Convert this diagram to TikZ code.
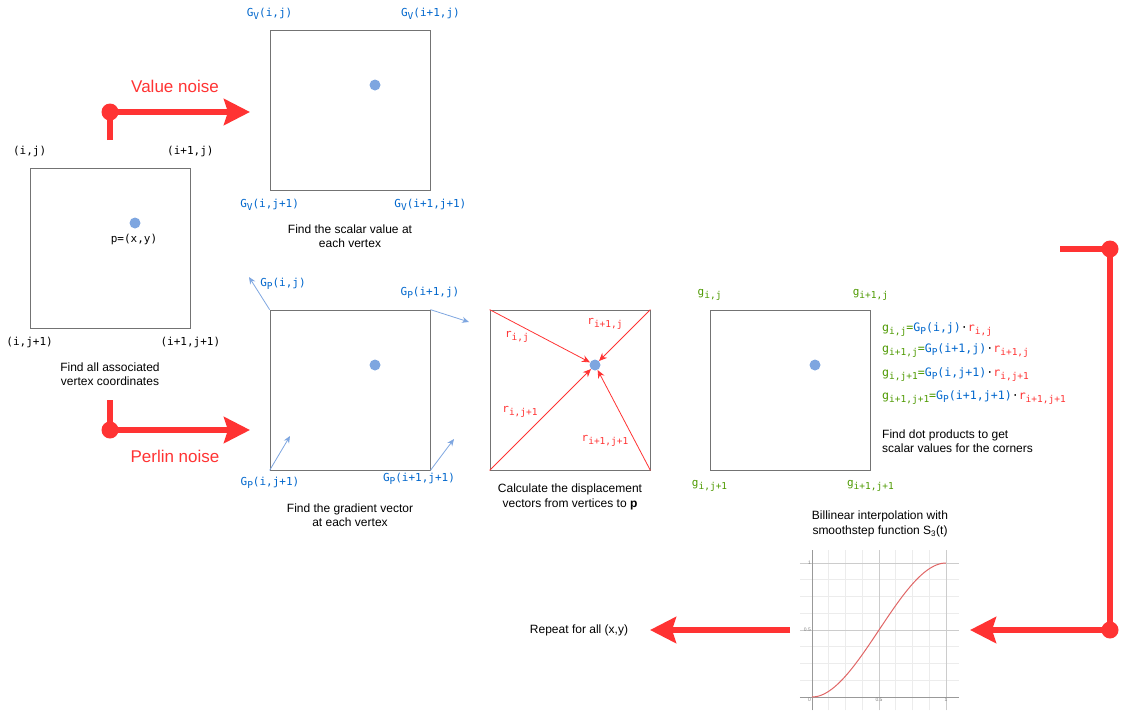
\documentclass[tikz,border=0pt]{standalone}
\usepackage{fontspec}
\setmainfont{Liberation Sans}
\setmonofont{DejaVu Sans Mono}
\usetikzlibrary{arrows.meta,positioning}
\definecolor{arrowred}{HTML}{FF3333}
\definecolor{curvered}{HTML}{E06666}
\definecolor{dotblue}{HTML}{7EA6E0}
\definecolor{labblue}{HTML}{0066CC}
\definecolor{labgreen}{HTML}{4D9900}
\definecolor{boxgray}{HTML}{737373}
\newcommand\sbs[1]{\raisebox{-3pt}{\fontsize{9.5}{10}\selectfont #1}}
\begin{document}
\begin{tikzpicture}[x=1pt,y=-1pt,
  cell/.style={draw=boxgray,line width=0.8pt,minimum size=160pt,inner sep=0pt},
  spot/.style={circle,fill=dotblue,minimum size=11pt,inner sep=0pt},
  corner/.style={font=\fontsize{11}{13}\selectfont\ttfamily,inner sep=1pt},
  formula/.style={font=\fontsize{11.6}{13}\selectfont\ttfamily,inner sep=1pt,anchor=west},
  caption/.style={font=\fontsize{12}{14.5}\selectfont,align=center,inner sep=0pt},
  bigarrow/.style={arrowred,line width=6pt,-{Stealth[length=26pt,width=26pt,inset=4pt]}},
  knot/.style={circle,fill=arrowred,minimum size=17pt,inner sep=0pt},
  grad/.style={dotblue,line width=0.8pt,-{Stealth[length=7pt,width=6pt]}},
  disp/.style={arrowred,line width=0.8pt,-{Stealth[length=8pt,width=7pt]}},
  tick/.style={font=\fontsize{5}{6}\selectfont,text=gray,inner sep=1pt}]
  \useasboundingbox (0,0) rectangle (1125,710);

  % vertex coordinates
  \node[cell] (coord) at (110,248) {};
  \node[spot] (pdot) at (135,223) {};
  \node[corner] (plab) at (134,239) {p=(x,y)};
  \node[corner] (c11) at ([yshift=16pt]coord.north west) {(i,j)};
  \node[corner] (c21) at ([yshift=16pt]coord.north east) {(i+1,j)};
  \node[corner] (c12) at ([yshift=-14pt]coord.south west) {(i,j+1)};
  \node[corner] (c22) at ([yshift=-14pt]coord.south east) {(i+1,j+1)};
  \node[caption] (ccap) at (110,374) {Find all associated\\vertex coordinates};

  % value noise
  \coordinate (vstub) at (110,140);
  \coordinate (vtip) at (250,112);
  \draw[bigarrow] (vstub) |- (vtip);
  \node[knot] (vknot) at (110,112) {};
  \node[font=\fontsize{17}{20}\selectfont,text=arrowred] (vname) at (175,86) {Value noise};

  \node[cell] (vbox) at (350,110) {};
  \node[spot] (vdot) at (375,85) {};
  \node[corner,text=labblue] (v11) at ([yshift=16pt]vbox.north west) {G\sbs{V}(i,j)};
  \node[corner,text=labblue] (v21) at ([yshift=16pt]vbox.north east) {G\sbs{V}(i+1,j)};
  \node[corner,text=labblue] (v12) at ([yshift=-14pt]vbox.south west) {G\sbs{V}(i,j+1)};
  \node[corner,text=labblue] (v22) at ([yshift=-14pt]vbox.south east) {G\sbs{V}(i+1,j+1)};
  \node[caption] (vcap) at (350,236) {Find the scalar value at\\each vertex};

  % perlin noise
  \coordinate (pstub) at (110,400);
  \coordinate (ptip) at (250,430);
  \draw[bigarrow] (pstub) |- (ptip);
  \node[knot] (pknot) at (110,430) {};
  \node[font=\fontsize{17}{20}\selectfont,text=arrowred] (pname) at (175,456) {Perlin noise};

  % gradient vectors
  \node[cell] (gbox) at (350,390) {};
  \node[spot] (gdot) at (375,365) {};
  \coordinate (gv11) at (249,277);
  \coordinate (gv21) at (469,322);
  \coordinate (gv12) at (290,436);
  \coordinate (gv22) at (454,439);
  \draw[grad] (gbox.north west) -- (gv11);
  \draw[grad] (gbox.north east) -- (gv21);
  \draw[grad] (gbox.south west) -- (gv12);
  \draw[grad] (gbox.south east) -- (gv22);
  \node[corner,text=labblue] (g11) at (283,284) {G\sbs{P}(i,j)};
  \node[corner,text=labblue] (g21) at (430,293) {G\sbs{P}(i+1,j)};
  \node[corner,text=labblue] (g12) at (270,483) {G\sbs{P}(i,j+1)};
  \node[corner,text=labblue] (g22) at (419,479) {G\sbs{P}(i+1,j+1)};
  \node[caption] (gcap) at (350,515) {Find the gradient vector\\at each vertex};

  % displacement vectors
  \node[cell] (rbox) at (570,390) {};
  \node[spot] (rdot) at (595,365) {};
  \draw[disp] (rbox.north west) -- (rdot);
  \draw[disp] (rbox.north east) -- (rdot);
  \draw[disp] (rbox.south west) -- (rdot);
  \draw[disp] (rbox.south east) -- (rdot);
  \node[corner,text=arrowred] (r11) at (517,337) {r\sbs{i,j}};
  \node[corner,text=arrowred] (r21) at (605,324) {r\sbs{i+1,j}};
  \node[corner,text=arrowred] (r12) at (520,412) {r\sbs{i,j+1}};
  \node[corner,text=arrowred] (r22) at (605,441) {r\sbs{i+1,j+1}};
  \node[caption] (rcap) at (570,497) {Calculate the displacement\\vectors from vertices to \textbf{p}};

  % dot products
  \node[cell] (dbox) at (790,390) {};
  \node[spot] (ddot) at (815,365) {};
  \node[corner,text=labgreen] (d11) at ([yshift=15pt]dbox.north west) {g\sbs{i,j}};
  \node[corner,text=labgreen] (d21) at ([yshift=15pt]dbox.north east) {g\sbs{i+1,j}};
  \node[corner,text=labgreen] (d12) at ([yshift=-15pt]dbox.south west) {g\sbs{i,j+1}};
  \node[corner,text=labgreen] (d22) at ([yshift=-15pt]dbox.south east) {g\sbs{i+1,j+1}};
  \node[formula] (e1) at (881,330) {\textcolor{labgreen}{g\sbs{i,j}=}\textcolor{labblue}{G\sbs{P}(i,j)}·\textcolor{arrowred}{r\sbs{i,j}}};
  \node[formula] (e2) at (881,351) {\textcolor{labgreen}{g\sbs{i+1,j}=}\textcolor{labblue}{G\sbs{P}(i+1,j)}·\textcolor{arrowred}{r\sbs{i+1,j}}};
  \node[formula] (e3) at (881,375) {\textcolor{labgreen}{g\sbs{i,j+1}=}\textcolor{labblue}{G\sbs{P}(i,j+1)}·\textcolor{arrowred}{r\sbs{i,j+1}}};
  \node[formula] (e4) at (881,398) {\textcolor{labgreen}{g\sbs{i+1,j+1}=}\textcolor{labblue}{G\sbs{P}(i+1,j+1)}·\textcolor{arrowred}{r\sbs{i+1,j+1}}};
  \node[caption,align=left,anchor=west] (dcap) at (882,441) {Find dot products to get\\scalar values for the corners};

  % back to the start
  \coordinate (ltail) at (1060,249);
  \coordinate (lturn) at (1110,249);
  \coordinate (lbend) at (1110,630);
  \coordinate (ltip) at (970,630);
  \draw[bigarrow] (ltail) -- (lturn) -- (lbend) -- (ltip);
  \node[knot] (lknot1) at (lturn) {};
  \node[knot] (lknot2) at (lbend) {};

  % smoothstep
  \node[caption] (scap) at (880,524) {Billinear interpolation with\\smoothstep function S\textsubscript{3}(t)};
  \begin{scope}[shift={(812,697)},x=134pt,y=134pt]
    \draw[gray!15,line width=0.6pt] (-0.09,-0.1) grid[step=0.125] (1.1,1.1);
    \draw[gray!40,line width=0.6pt] (-0.09,0.5) -- (1.1,0.5) (0.5,-0.1) -- (0.5,1.1)
      (-0.09,1) -- (1.1,1) (1,-0.1) -- (1,1.1);
    \draw[gray!80,line width=0.8pt] (-0.09,0) -- (1.1,0) (0,-0.1) -- (0,1.1);
    \draw[curvered,line width=1pt] plot[domain=0:1,samples=60] (\x,{3*\x*\x-2*\x*\x*\x});
    \node[tick,anchor=north east] (t0) at (0,0) {0};
    \node[tick,anchor=north] (tx5) at (0.5,0) {0.5};
    \node[tick,anchor=north] (tx1) at (1,0) {1};
    \node[tick,anchor=east] (ty5) at (0,0.5) {0.5};
    \node[tick,anchor=east] (ty1) at (0,1) {1};
  \end{scope}

  % repeat
  \node[caption] (rep) at (579,630) {Repeat for all (x,y)};
  \coordinate (rtail) at (790,630);
  \coordinate (rtip) at (650,630);
  \draw[bigarrow] (rtail) -- (rtip);
\end{tikzpicture}
\end{document}
